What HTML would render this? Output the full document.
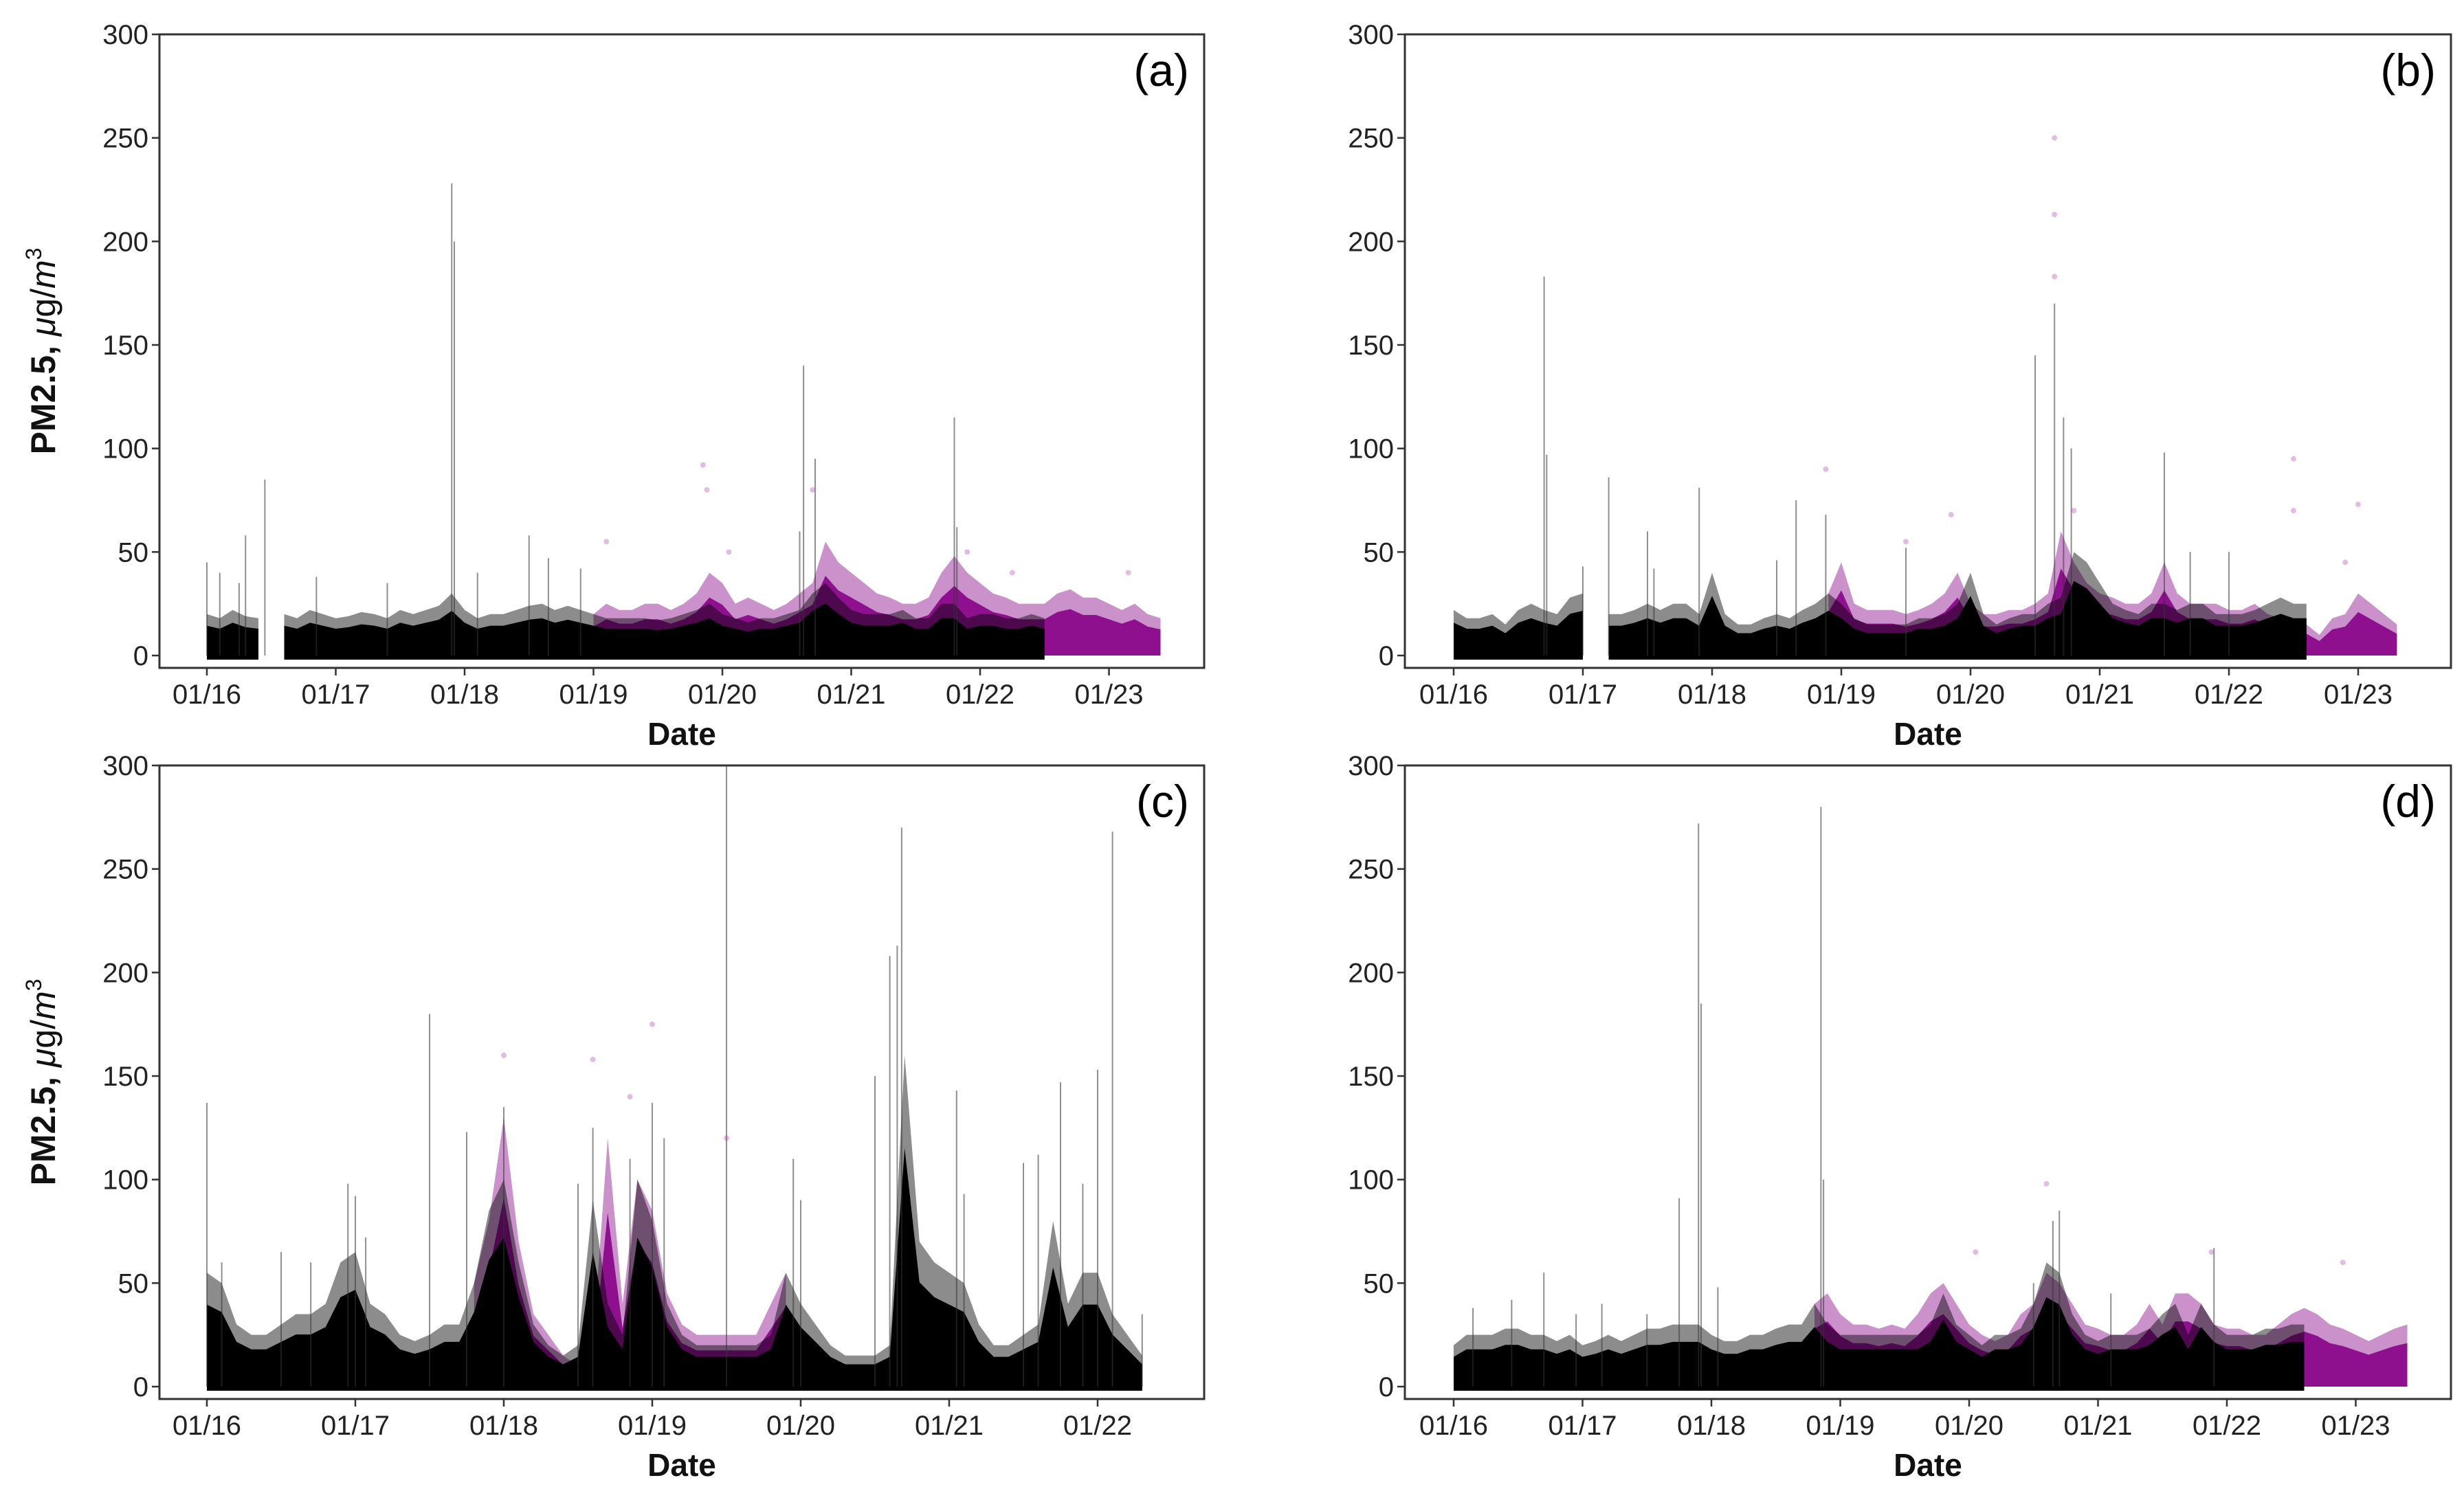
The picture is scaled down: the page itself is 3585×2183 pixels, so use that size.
<!DOCTYPE html>
<html><head><meta charset="utf-8"><style>
html,body{margin:0;padding:0;background:#fff}
svg{display:block}
text{font-family:"Liberation Sans",sans-serif}
</style></head><body>
<svg id="fig" width="3585" height="2183" viewBox="0 0 3585 2183" xmlns="http://www.w3.org/2000/svg"></svg>
<script>
// ---- data ----
const yTicks = [0,50,100,150,200,250,300];
const xTicksA = ["01/16","01/17","01/18","01/19","01/20","01/21","01/22","01/23"];
const xTicksC = ["01/16","01/17","01/18","01/19","01/20","01/21","01/22"];
const blackHiA = [20,18,22,19,18,null,20,18,22,20,18,19,21,20,18,22,20,22,24,30,22,18,20,20,22,24,25,22,24,22,20,18,18,18,18,17,18,20,22,25,20,18,16,18,18,20,22,30,35,28,22,20,20,20,22,18,18,25,25,18,20,20,18,18,20,18];
const magHiA = [20,25,22,22,25,25,22,25,30,40,35,25,28,25,22,25,30,35,55,45,40,35,30,28,25,25,28,40,48,40,35,30,28,25,25,25,30,32,28,28,25,22,25,20,18];
const magStartA = 3.0;
const spikeTA = [0,0.1,0.25,0.3,0.45,0.85,1.4,1.9,1.92,2.1,2.5,2.65,2.9,4.6,4.63,4.72,5.8,5.82];
const spikeVA = [45,40,35,58,85,38,35,228,200,40,58,47,42,60,140,95,115,62];
const dotTA = [3.1,3.85,3.88,4.05,4.7,5.9,6.25,7.15];
const dotVA = [55,92,80,50,80,50,40,40];

const blackHiB = [22,18,18,20,15,22,25,22,20,28,30,null,20,20,22,25,22,25,25,20,40,20,15,15,18,20,18,22,25,30,25,18,15,15,15,15,18,18,20,25,40,20,15,18,20,20,25,28,50,45,35,25,22,20,25,25,22,25,25,20,20,20,22,25,28,25,25];
const magHiB = [30,45,25,22,22,22,20,22,25,30,40,25,20,20,22,22,25,30,60,45,35,30,28,25,25,30,45,30,25,25,25,22,22,25,20,18,15,15,10,18,20,30,25,20,15];
const magStartB = 2.9;
const spikeTB = [0.7,0.72,1.0,1.2,1.5,1.55,1.9,2.5,2.65,2.88,3.5,4.5,4.65,4.72,4.78,5.5,5.7,6.0];
const spikeVB = [183,97,43,86,60,42,81,46,75,68,52,145,170,115,100,98,50,50];
const dotTB = [2.88,3.5,3.85,4.65,4.65,4.65,4.8,6.5,6.5,7.0,6.9];
const dotVB = [90,55,68,250,213,183,70,95,70,73,45];

const blackHiC = [55,50,30,25,25,30,35,35,40,60,65,40,35,25,22,25,30,30,50,85,100,60,30,20,15,20,90,40,25,100,80,40,25,20,20,20,20,20,25,55,40,30,20,15,15,15,20,160,70,60,55,50,30,20,20,25,30,80,40,55,55,35,25,15];
const magHiC = [50,80,130,70,35,25,15,10,20,120,40,100,85,45,30,25,25,25,25,25,40,55];
const magStartC = 1.8;
const spikeTC = [0,0.1,0.5,0.7,0.95,1.0,1.07,1.5,1.75,2.0,2.5,2.6,2.85,3.0,3.08,3.5,3.95,4.0,4.5,4.6,4.68,4.65,5.05,5.1,5.5,5.6,5.75,5.9,6.0,6.1,6.3];
const spikeVC = [137,60,65,60,98,92,72,180,123,135,98,125,110,137,120,300,110,90,150,208,270,213,143,93,108,112,147,98,153,268,35];
const dotTC = [2.0,2.6,3.0,3.5,2.85];
const dotVC = [160,158,175,120,140];

const blackHiD = [20,25,25,25,28,28,25,25,22,25,20,22,25,22,25,28,28,30,30,30,25,22,22,25,25,28,30,30,40,30,25,25,25,25,25,25,25,30,45,30,25,20,25,25,28,40,60,55,35,25,22,25,25,25,28,35,40,25,40,30,25,25,25,28,28,30,30];
const magHiD = [40,45,35,30,30,28,30,28,35,45,50,40,30,25,22,25,35,40,55,50,40,30,28,25,25,30,40,30,45,45,40,30,28,28,25,25,30,35,38,35,30,28,25,22,25,28,30];
const magStartD = 2.8;
const spikeTD = [0.15,0.45,0.7,0.95,1.15,1.5,1.75,1.9,1.92,2.05,2.85,2.87,4.5,4.65,4.7,5.1,5.9];
const spikeVD = [38,42,55,35,40,35,91,272,185,48,280,100,50,80,85,45,67];
const dotTD = [4.6,6.9,4.05,5.88];
const dotVD = [98,60,65,65];

// ---- drawing ----
const NS = "http://www.w3.org/2000/svg";
const svg = document.getElementById("fig");
function mk(tag, attrs, parent){ const e=document.createElementNS(NS,tag); for(const k in attrs) e.setAttribute(k,attrs[k]); (parent||svg).appendChild(e); return e; }

function panel(cfg){
  const {id,left,right,top,y0px,bottom,t0px,step,ticks,bHi,mHi,mStart,sT,sV,dT,dV,label,ylab} = cfg;
  const g = mk("g",{});
  
  
  const xs = t => t0px + t*step;
  const ys = v => y0px - v*(y0px-top)/300;
  const clipId = "clip"+id;
  const cp = mk("clipPath",{id:clipId},g);
  mk("rect",{x:left,y:top,width:right-left,height:bottom-top},cp);
  const plot = mk("g",{"clip-path":"url(#"+clipId+")"},g);
  function area(arr, start, fill, frac, op, lowV, name){
    let seg=[];
    const flush=()=>{
      if(seg.length>1){
        let d="M"+seg[0][0]+","+ys(lowV);
        seg.forEach(p=>{d+=" L"+p[0]+","+p[1];});
        d+=" L"+seg[seg.length-1][0]+","+ys(lowV)+" Z";
        const p=mk("path",{d:d,fill:fill,"fill-opacity":op,"stroke-linejoin":"round"},plot);
        
        
      }
      seg=[];
    };
    arr.forEach((v,i)=>{
      const t=start+i*0.1;
      if(v===null){flush();return;}
      seg.push([xs(t),ys(v*frac)]);
    });
    flush();
  }
  area(mHi, mStart, "#8b0a8b", 1.0, 0.45, 0, "series-magenta-halo-"+id);
  area(mHi, mStart, "#8b0a8b", 0.7, 0.95, 0, "series-magenta-"+id);
  area(bHi, 0, "#000", 1.0, 0.45, -2, "series-black-halo-"+id);
  area(bHi, 0, "#000", 0.72, 1, -2, "series-black-"+id);
  sT.forEach((t,i)=>{
    const l=mk("line",{x1:xs(t),x2:xs(t),y1:ys(0),y2:ys(sV[i]),stroke:"#333","stroke-width":2,"stroke-opacity":0.55},plot);
    
    
  });
  dT.forEach((t,i)=>{
    const c=mk("circle",{cx:xs(t),cy:ys(dV[i]),r:4,fill:"#b040b0","fill-opacity":0.35},plot);
    
    
  });
  const frame=mk("rect",{x:left,y:top,width:right-left,height:bottom-top,fill:"none",stroke:"#333","stroke-width":3},g);
  
  
  yTicks.forEach(v=>{
    mk("line",{x1:left-11,x2:left,y1:ys(v),y2:ys(v),stroke:"#333","stroke-width":2.5},g);
    const tx=mk("text",{x:left-16,y:ys(v)+14,"text-anchor":"end","font-size":40,fill:"#222"},g);
    tx.textContent=v;
    
    
  });
  ticks.forEach((s,i)=>{
    const x=xs(i);
    mk("line",{x1:x,x2:x,y1:bottom,y2:bottom+11,stroke:"#333","stroke-width":2.5},g);
    const tx=mk("text",{x:x,y:bottom+52,"text-anchor":"middle","font-size":40,fill:"#222"},g);
    tx.textContent=s;
    
    
  });
  const xl=mk("text",{x:(left+right)/2,y:bottom+112,"text-anchor":"middle","font-size":46,"font-weight":"bold",fill:"#111"},g);
  xl.textContent="Date";
  
  
  const pl=mk("text",{x:right-22,y:top+75,"text-anchor":"end","font-size":66,fill:"#000"},g);
  pl.textContent=label;
  
  
  if(ylab){
    const cy=(top+bottom)/2;
    const yl=mk("text",{x:0,y:0,transform:"translate(80,"+cy+") rotate(-90)","text-anchor":"middle","font-size":50,"font-weight":"bold",fill:"#111"},g);
    yl.innerHTML='PM2.5, <tspan font-style="italic" font-weight="normal">μ</tspan><tspan font-weight="normal">g/</tspan><tspan font-style="italic" font-weight="normal">m</tspan><tspan font-size="32" dy="-20" font-weight="normal">3</tspan>';
    
    
  }
}
panel({id:"a",left:232,right:1752,top:50,y0px:954,bottom:972,t0px:301,step:187.5,ticks:xTicksA,bHi:blackHiA,mHi:magHiA,mStart:magStartA,sT:spikeTA,sV:spikeVA,dT:dotTA,dV:dotVA,label:"(a)",ylab:true});
panel({id:"b",left:2044,right:3566,top:50,y0px:954,bottom:972,t0px:2115,step:188,ticks:xTicksA,bHi:blackHiB,mHi:magHiB,mStart:magStartB,sT:spikeTB,sV:spikeVB,dT:dotTB,dV:dotVB,label:"(b)",ylab:false});
panel({id:"c",left:232,right:1752,top:1114,y0px:2018,bottom:2036,t0px:301,step:216,ticks:xTicksC,bHi:blackHiC,mHi:magHiC,mStart:magStartC,sT:spikeTC,sV:spikeVC,dT:dotTC,dV:dotVC,label:"(c)",ylab:true});
panel({id:"d",left:2044,right:3566,top:1114,y0px:2018,bottom:2036,t0px:2115,step:187.5,ticks:xTicksA,bHi:blackHiD,mHi:magHiD,mStart:magStartD,sT:spikeTD,sV:spikeVD,dT:dotTD,dV:dotVD,label:"(d)",ylab:false});
</script>
</body></html>
